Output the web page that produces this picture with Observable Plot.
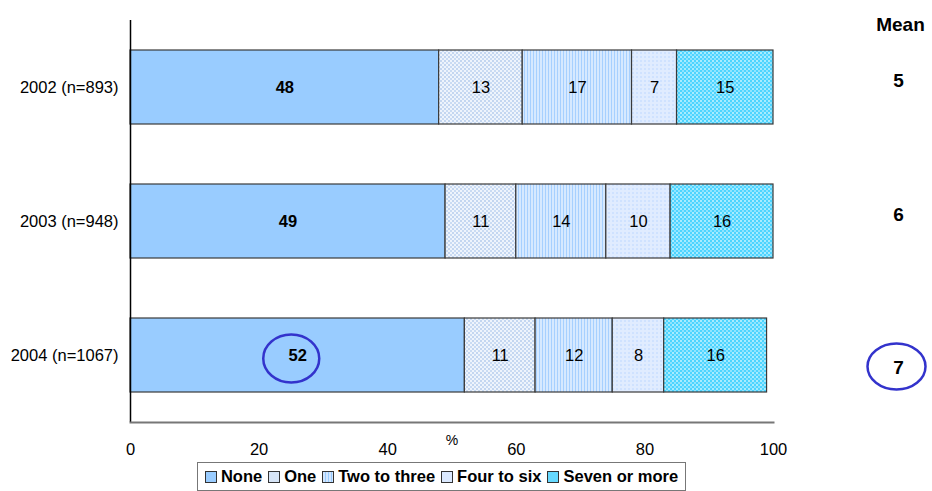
<!DOCTYPE html>
<html>
<head>
<meta charset="utf-8">
<script src="https://cdn.jsdelivr.net/npm/d3@7"></script>
<script src="https://cdn.jsdelivr.net/npm/@observablehq/plot@0.6"></script>
<style>
  body { margin: 0; background: #fff; font-family: "Liberation Sans", Arial, sans-serif; }
  #wrap { position: relative; width: 932px; height: 491px; }
  #legend { position: absolute; left: 197px; top: 462px; width: 487px; height: 27px;
    border: 1px solid #777; display: flex; align-items: center; justify-content: center;
    font-weight: bold; font-size: 16.5px; color: #000; box-sizing: content-box; }
  #legend .item { display: flex; align-items: center; margin: 0 3px; }
  #legend .sw { width: 10px; height: 10px; border: 1px solid #333; margin-right: 4px; }
  svg pattern rect { shape-rendering: crispEdges; }
</style>
</head>
<body>
<div id="wrap"></div>
<script>
const years = ["2002", "2003", "2004"];
const sampleSizes = [893, 948, 1067];
const categories = ["None", "One", "Two to three", "Four to six", "Seven or more"];
const none = [48, 49, 52];
const one = [13, 11, 11];
const twoToThree = [17, 14, 12];
const fourToSix = [7, 10, 8];
const sevenOrMore = [15, 16, 16];
const means = [5, 6, 7];
const xTicks = [0, 20, 40, 60, 80, 100];

const labels = years.map((y, i) => `${y} (n=${sampleSizes[i]})`);
const series = [none, one, twoToThree, fourToSix, sevenOrMore];
const data = [];
labels.forEach((lab, i) => categories.forEach((c, j) => data.push({year: lab, cat: c, value: series[j][i]})));
const meanData = labels.map((lab, i) => ({year: lab, mean: means[i]}));

const fills = ["url(#pNone)", "url(#pOne)", "url(#pTwo)", "url(#pFour)", "url(#pSeven)"];
const legendBg = ["#99ccff", "#d6e4f6",
  "repeating-linear-gradient(90deg,#d2e6ff 0 2px,#99ccff 2px 3px)",
  "#dbe9ff", "#66d9ff"];

const k = 0.5523;
const ellipse = (rx, ry) => ({
  draw(ctx) {
    ctx.moveTo(rx, 0);
    ctx.bezierCurveTo(rx, ry * k, rx * k, ry, 0, ry);
    ctx.bezierCurveTo(-rx * k, ry, -rx, ry * k, -rx, 0);
    ctx.bezierCurveTo(-rx, -ry * k, -rx * k, -ry, 0, -ry);
    ctx.bezierCurveTo(rx * k, -ry, rx, -ry * k, rx, 0);
    ctx.closePath();
  }
});

const font = "Liberation Sans, Arial, sans-serif";
const fs = 16.5;
const chart = Plot.plot({
  width: 932,
  height: 462,
  marginLeft: 130,
  marginRight: 159,
  marginTop: 20,
  marginBottom: 40,
  style: {fontFamily: font, color: "#000", background: "#fff", fontSize: fs + "px"},
  x: {domain: [0, 100], ticks: xTicks},
  y: {domain: labels, paddingInner: 0.45, paddingOuter: 0.22},
  color: {domain: categories, range: fills},
  marks: [
    Plot.barX(data, Plot.stackX({y: "year", x: "value", fill: "cat", stroke: "#3a3a3a", strokeWidth: 1.2})),
    Plot.text(data.filter(d => d.cat === "None"), Plot.stackX({y: "year", x: "value", z: "cat", text: "value", fontSize: fs, fontWeight: "bold"})),
    Plot.text(data, Plot.stackX({y: "year", x: "value", z: "cat", text: d => d.cat === "None" ? "" : String(d.value), fontSize: fs})),
    Plot.ruleX([0], {stroke: "#000", strokeWidth: 1.5}),
    Plot.frame({anchor: "bottom", stroke: "#777", strokeWidth: 2}),
    Plot.axisX({ticks: xTicks, tickSize: 0, tickPadding: 21, fontSize: fs, label: null}),
    Plot.axisY({tickSize: 0, tickPadding: 12, fontSize: fs, label: null}),
    Plot.text(["%"], {frameAnchor: "bottom", dy: 18, text: d => d, fontSize: 14, textAnchor: "middle", lineAnchor: "middle"}),
    Plot.text(["Mean"], {frameAnchor: "top-right", dx: 127, dy: 4, text: d => d, fontSize: 19, fontWeight: "bold", textAnchor: "middle", lineAnchor: "middle"}),
    Plot.text(meanData.slice(0, 2), {y: "year", frameAnchor: "right", dx: 125, dy: -7, text: "mean", fontSize: 19, fontWeight: "bold", textAnchor: "middle", lineAnchor: "middle"}),
    Plot.text(meanData.slice(2), {y: "year", frameAnchor: "right", dx: 125, dy: 12, text: "mean", fontSize: 19, fontWeight: "bold", textAnchor: "middle", lineAnchor: "middle"}),
    Plot.dot(meanData.slice(2), {y: "year", frameAnchor: "right", dx: 123, dy: 11, r: 20, symbol: ellipse(29, 23), stroke: "#3333cc", strokeWidth: 2.5, fill: "none"}),
    Plot.dot([{year: labels[2], x: 25}], {y: "year", x: "x", dy: 3, r: 20, symbol: ellipse(28, 24), stroke: "#3333cc", strokeWidth: 2.5, fill: "none"})
  ]
});

d3.select(chart).insert("defs", ":first-child").html(`
  <pattern id="pNone" width="4" height="4" patternUnits="userSpaceOnUse"><rect width="4" height="4" fill="#99ccff"/></pattern>
  <pattern id="pOne" width="4" height="4" patternUnits="userSpaceOnUse"><rect width="4" height="4" fill="#eef4fc"/><rect width="2" height="2" fill="#c3d6f0"/><rect x="2" y="2" width="2" height="2" fill="#c9dbf3"/></pattern>
  <pattern id="pTwo" width="3" height="3" patternUnits="userSpaceOnUse"><rect width="3" height="3" fill="#d6e9ff"/><rect x="2" width="1" height="3" fill="#a6d0ff"/></pattern>
  <pattern id="pFour" width="4" height="4" patternUnits="userSpaceOnUse"><rect width="4" height="4" fill="#e0ecff"/><rect width="2" height="2" fill="#cfe2ff"/></pattern>
  <pattern id="pSeven" width="4" height="4" patternUnits="userSpaceOnUse"><rect width="4" height="4" fill="#4dd4ff"/><rect width="2" height="2" fill="#a8ecff"/><rect x="2" y="2" width="2" height="2" fill="#8fe4ff"/></pattern>
`);

const wrap = document.getElementById("wrap");
wrap.appendChild(chart);
const legend = document.createElement("div");
legend.id = "legend";
categories.forEach((c, i) => {
  const it = document.createElement("div");
  it.className = "item";
  const sw = document.createElement("span");
  sw.className = "sw";
  sw.style.background = legendBg[i];
  it.appendChild(sw);
  it.appendChild(document.createTextNode(c));
  legend.appendChild(it);
});
wrap.appendChild(legend);
</script>
</body>
</html>
